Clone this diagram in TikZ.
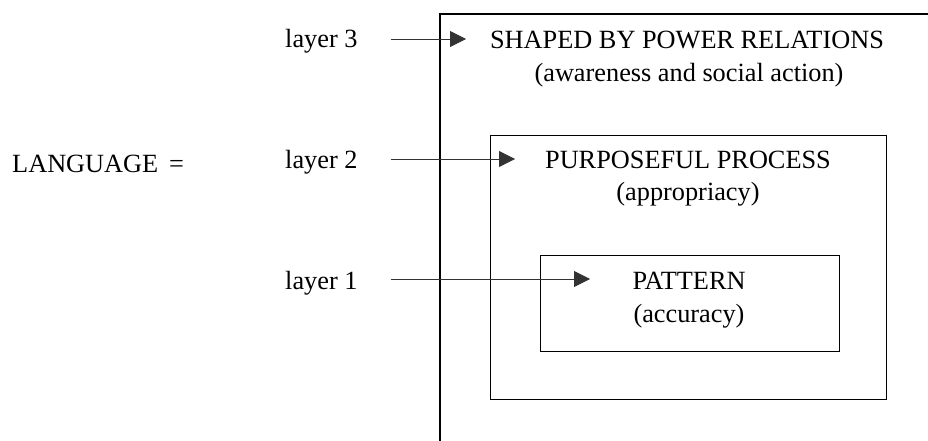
\documentclass[tikz,border=0pt]{standalone}
\usepackage{fontspec}
\setmainfont{Liberation Serif}
\usetikzlibrary{arrows.meta}
\begin{document}
\begin{tikzpicture}[x=1pt,y=-1pt,
  lbl/.style={inner sep=0pt,anchor=base west,font=\fontsize{26.3}{30}\selectfont},
  ttl/.style={inner sep=0pt,anchor=base,font=\fontsize{26.3}{30}\selectfont},
  boxline/.style={draw=black,line width=1pt},
  pointer/.style={draw=black!80,line width=0.8pt,-{Triangle[length=16pt,width=16pt]}}]
\useasboundingbox (0,0) rectangle (928,441);

% layer boxes: the outer one runs off the page to the right and bottom
\draw[boxline,line width=1.2pt] (440,441) -- (440,14) -- (929,14);
\draw[boxline] (490,135) rectangle (886,399);
\draw[boxline] (540,255) rectangle (839,351);

% left-hand labels
\node[lbl] (lang) at (12,172) {LANGUAGE\, =};
\node[lbl] (l3) at (285,48) {layer 3};
\node[lbl] (l2) at (285,168) {layer 2};
\node[lbl] (l1) at (285,289) {layer 1};

% layer descriptions
\node[ttl] (t3) at (687,48.5) {SHAPED BY POWER RELATIONS};
\node[ttl] (s3) at (689,81.5) {(awareness and social action)};
\node[ttl] (t2) at (688,168) {PURPOSEFUL PROCESS};
\node[ttl] (s2) at (688,200.5) {(appropriacy)};
\node[ttl] (t1) at (689,289) {PATTERN};
\node[ttl] (s1) at (689,322) {(accuracy)};

% arrow tips
\coordinate (p3) at (466,39);
\coordinate (p2) at (515,159);
\coordinate (p1) at (590,279);

\draw[pointer] (l3.east |- p3) ++(33,0) -- (p3);
\draw[pointer] (l2.east |- p2) ++(33,0) -- (p2);
\draw[pointer] (l1.east |- p1) ++(33,0) -- (p1);
\end{tikzpicture}
\end{document}
